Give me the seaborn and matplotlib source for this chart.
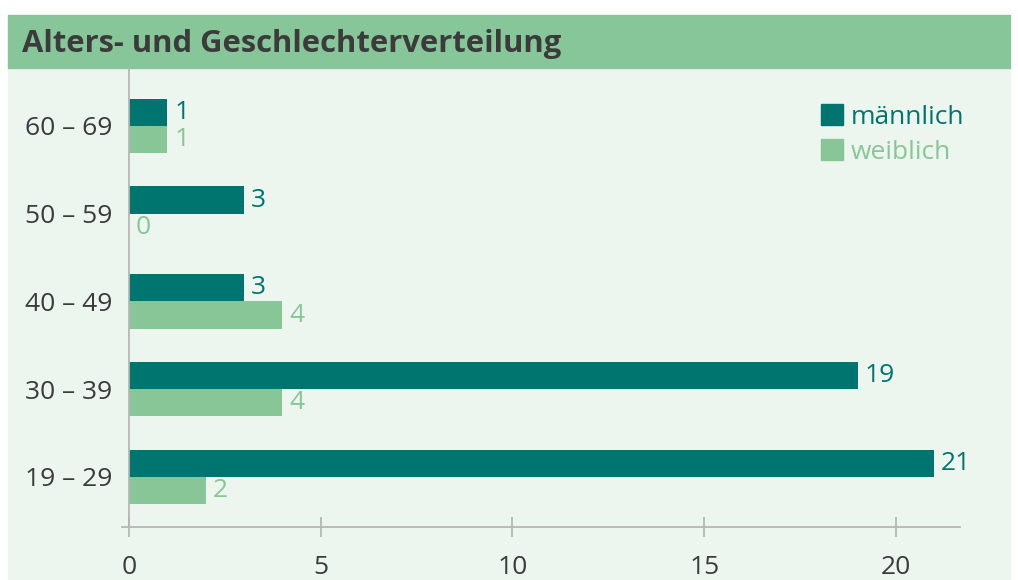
import pandas as pd
import matplotlib.pyplot as plt
import matplotlib.patches as mpatches
import seaborn as sns

# Daten
altersgruppen = ['60 – 69', '50 – 59', '40 – 49', '30 – 39', '19 – 29']
maennlich = [1, 3, 3, 19, 21]
weiblich = [1, 0, 4, 4, 2]
geschlechter = ['männlich', 'weiblich']
x_ticks = [0, 5, 10, 15, 20]

farben = {'männlich': '#00756f', 'weiblich': '#88c697'}
textfarbe = '#3b3b3b'

df = pd.DataFrame({
    'Alter': altersgruppen * 2,
    'Anzahl': maennlich + weiblich,
    'Geschlecht': ['männlich'] * len(altersgruppen) + ['weiblich'] * len(altersgruppen),
})

sns.set_style('white')
plt.rcParams['font.family'] = ['Open Sans', 'DejaVu Sans']

W, H = 1018, 580
fig = plt.figure(figsize=(W / 100, H / 100), dpi=100)

# Hintergrund und Titelleiste
fig.add_artist(mpatches.Rectangle((8 / W, 0), 1002 / W, (H - 68) / H,
                                  transform=fig.transFigure, color='#edf6ee', zorder=-10))
fig.add_artist(mpatches.Rectangle((8 / W, (H - 68) / H), 1002 / W, 53 / H,
                                  transform=fig.transFigure, color='#87c699', zorder=-10))
fig.text(22 / W, (H - 44) / H, 'Alters- und Geschlechterverteilung', fontsize=22.3,
         fontweight='bold', color=textfarbe, va='center', ha='left')

ax = fig.add_axes([122 / W, 53 / H, 838 / W, 459 / H])
ax.patch.set_alpha(0)

sns.barplot(data=df, x='Anzahl', y='Alter', hue='Geschlecht', order=altersgruppen,
            hue_order=geschlechter, palette=farben, orient='h', width=0.62,
            gap=0, saturation=1, linewidth=0, ax=ax, legend=False)

for cont, g in zip(ax.containers, geschlechter):
    ax.bar_label(cont, padding=5, color=farben[g], fontsize=19)

ax.set_xlim(-0.18, 21.67)
ax.set_ylim(4.57, -0.66)
ax.set_xticks(x_ticks)
ax.set_xlabel('')
ax.set_ylabel('')

for s in ['top', 'right']:
    ax.spines[s].set_visible(False)
ax.spines['left'].set_position(('data', 0))
for s in ['left', 'bottom']:
    ax.spines[s].set_color('#b5b5b5')
    ax.spines[s].set_linewidth(1.3)

ax.tick_params(axis='x', bottom=True, direction='inout', length=15, width=1.3, color='#b5b5b5',
               labelsize=19, labelcolor=textfarbe, pad=13)
ax.tick_params(axis='y', left=False, length=0, labelsize=19, labelcolor=textfarbe, pad=12)

handles = [mpatches.Patch(color=farben[g], label=g) for g in geschlechter]
leg = ax.legend(handles=handles, loc='upper right', frameon=False,
                bbox_to_anchor=(964 / W, (H - 104) / H), bbox_transform=fig.transFigure,
                fontsize=19, handlelength=0.85, handleheight=0.85, handletextpad=0.28,
                labelspacing=0.36, borderpad=0, borderaxespad=0)
for t, g in zip(leg.get_texts(), geschlechter):
    t.set_color(farben[g])

fig.savefig('out.png', dpi=100, facecolor='white')
